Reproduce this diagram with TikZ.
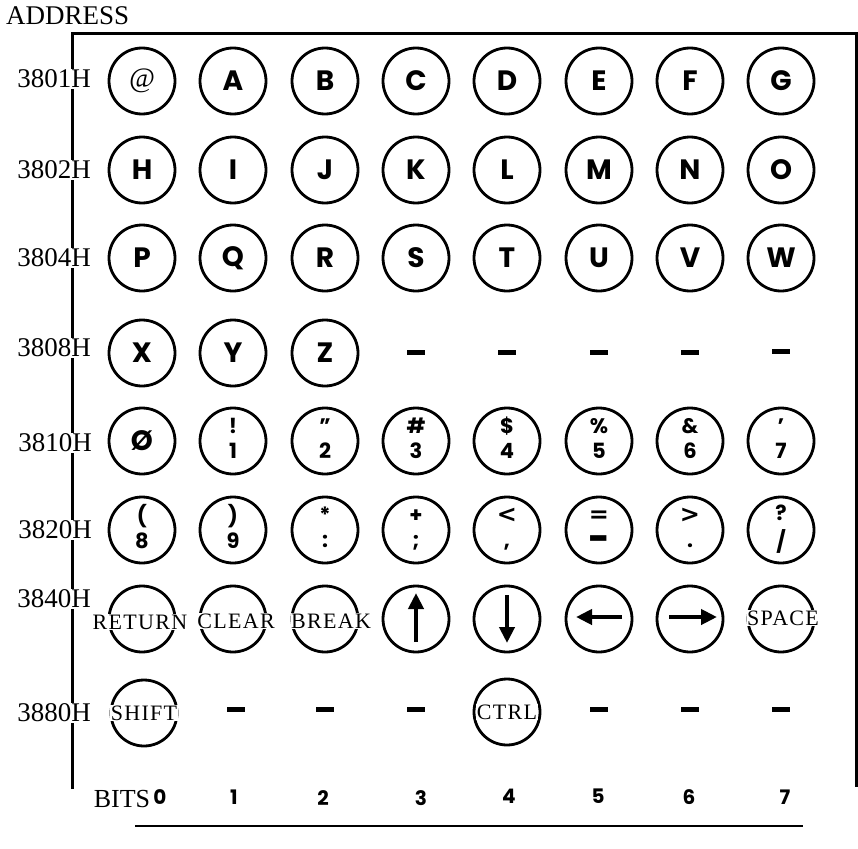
\documentclass[tikz,border=0pt]{standalone}
\usepackage{fontspec}
\usepackage{graphicx}
\setmainfont{Liberation Serif}
\newfontfamily\keyfont{Poppins}
\newfontfamily\symfont{DejaVu Sans}
\newfontfamily\wordfont[LetterSpace=6]{Liberation Serif}
\usetikzlibrary{arrows.meta}
\begin{document}
\begin{tikzpicture}[x=1pt,y=-1pt,
  key/.style={circle, draw, line width=2.8pt, minimum size=66pt, inner sep=0pt,
    font=\keyfont\bfseries\fontsize{28}{28}\selectfont},
  keytwo/.style={key, align=center, font=\keyfont\bfseries\fontsize{21}{25}\selectfont},
  keyat/.style={key, font=\itshape\fontsize{28}{28}\selectfont},
  keyring/.style={circle, draw, line width=2.8pt, minimum size=66pt, inner sep=0pt},
  keyword/.style={fill=white, inner sep=0.5pt, font=\wordfont\fontsize{22}{22}\selectfont},
  addr/.style={fill=white, inner sep=1pt, font=\fontsize{27}{27}\selectfont},
  dashbar/.style={fill=black, minimum width=18pt, minimum height=5pt, inner sep=0pt},
  bitnum/.style={font=\keyfont\bfseries\fontsize{20}{20}\selectfont},
  frameline/.style={line width=3pt},
  bigarrow/.style={line width=4.5pt, -{Triangle[length=16pt,width=15pt]}}
]
\useasboundingbox (0,0) rectangle (858,848);
\newcommand{\twol}[2]{\strut#1\\\strut#2}
\newcommand{\bigsym}[1]{{\symfont\bfseries\fontsize{24}{25}\selectfont #1}}

% frame
\coordinate (tl) at (72,34);
\coordinate (tr) at (856,34);
\coordinate (bl) at (72,789);
\coordinate (br) at (856,787);
\draw[frameline] (bl) -- (tl) -- (tr) -- (br);

\node[font=\fontsize{27}{27}\selectfont, anchor=west, inner sep=0pt] (address) at (6,16) {ADDRESS};

% row labels
\node[addr] (l1) at (54,79) {3801H};
\node[addr] (l2) at (54,170) {3802H};
\node[addr] (l3) at (54,258) {3804H};
\node[addr] (l4) at (54,348) {3808H};
\node[addr] (l5) at (55,443) {3810H};
\node[addr] (l6) at (55,530) {3820H};
\node[addr] (l7) at (54,599) {3840H};
\node[addr] (l8) at (54,713) {3880H};

% row 1
\node[keyat] (kat) at (142,81) {@};
\node[key] (kA) at (233,81) {A};
\node[key] (kB) at (325,81) {B};
\node[key] (kC) at (416,81) {C};
\node[key] (kD) at (507,81) {D};
\node[key] (kE) at (599,81) {E};
\node[key] (kF) at (690,81) {F};
\node[key] (kG) at (781,81) {G};
% row 2
\node[key] (kH) at (142,170) {H};
\node[key] (kI) at (233,170) {I};
\node[key] (kJ) at (325,170) {J};
\node[key] (kK) at (416,170) {K};
\node[key] (kL) at (507,170) {L};
\node[key] (kM) at (599,170) {M};
\node[key] (kN) at (690,170) {N};
\node[key] (kO) at (781,170) {O};
% row 3
\node[key] (kP) at (142,258) {P};
\node[key] (kQ) at (233,258) {Q};
\node[key] (kR) at (325,258) {R};
\node[key] (kS) at (416,258) {S};
\node[key] (kT) at (507,258) {T};
\node[key] (kU) at (599,258) {U};
\node[key] (kV) at (690,258) {V};
\node[key] (kW) at (781,258) {W};
% row 4
\node[key] (kX) at (142,353) {X};
\node[key] (kY) at (233,353) {Y};
\node[key] (kZ) at (325,353) {Z};
\node[dashbar] (d43) at (416,352) {};
\node[dashbar] (d44) at (507,352) {};
\node[dashbar] (d45) at (599,352) {};
\node[dashbar] (d46) at (690,352) {};
\node[dashbar] (d47) at (781,351) {};
% row 5
\node[key] (k0) at (142,441) {Ø};
\node[keytwo] (k1) at (233,441) {\twol{!}{1}};
\node[keytwo] (k2) at (325,441) {\twol{”}{2}};
\node[keytwo] (k3) at (416,441) {\twol{\#}{3}};
\node[keytwo] (k4) at (507,441) {\twol{\$}{4}};
\node[keytwo] (k5) at (599,441) {\twol{\%}{5}};
\node[keytwo] (k6) at (690,441) {\twol{\&}{6}};
\node[keytwo] (k7) at (781,441) {\twol{’}{7}};
% row 6
\node[keytwo] (k8) at (142,530) {\twol{(}{8}};
\node[keytwo] (k9) at (233,530) {\twol{)}{9}};
\node[keytwo] (kcolon) at (325,530) {\twol{*}{:}};
\node[keytwo] (ksemi) at (416,530) {\twol{+}{;}};
\node[keytwo] (kcomma) at (507,530) {\twol{\bigsym{<}}{,}};
\node[keytwo] (kminus) at (599,530) {\twol{\bigsym{=}}{\raisebox{-5pt}{\scalebox{1.4}[1.9]{–}}}};
\node[keytwo] (kdot) at (690,530) {\twol{\bigsym{>}}{.}};
\node[keytwo] (kslash) at (781,530) {\twol{?}{/}};
% row 7
\node[keyring] (kret) at (142,619) {};
\node[keyword] (tret) at (140,622) {RETURN};
\node[keyring] (kclr) at (233,619) {};
\node[keyword] (tclr) at (236,621) {CLEAR};
\node[keyring] (kbrk) at (325,619) {};
\node[keyword] (tbrk) at (331,621) {BREAK};
\node[keyring] (kup) at (416,619) {};
\node[keyring] (kdown) at (507,619) {};
\node[keyring] (kleft) at (599,619) {};
\node[keyring] (kright) at (690,619) {};
\node[keyring] (kspace) at (781,619) {};
\node[keyword] (tspace) at (783,618) {SPACE};
\draw[bigarrow] ([yshift=-23pt]kup.center) -- ([yshift=26pt]kup.center);
\draw[bigarrow] ([yshift=24pt]kdown.center) -- ([yshift=-24pt]kdown.center);
\draw[bigarrow] ([xshift=23pt,yshift=2pt]kleft.center) -- ([xshift=-23pt,yshift=2pt]kleft.center);
\draw[bigarrow] ([xshift=-21pt,yshift=2pt]kright.center) -- ([xshift=27pt,yshift=2pt]kright.center);
% row 8
\node[keyring] (kshift) at (144,713) {};
\node[keyword] (tshift) at (144,713) {SHIFT};
\node[dashbar] (d81) at (236,709) {};
\node[dashbar] (d82) at (325,709) {};
\node[dashbar] (d83) at (416,709) {};
\node[keyring] (kctrl) at (507,712) {};
\node[keyword] (tctrl) at (507,712) {CTRL};
\node[dashbar] (d85) at (599,709) {};
\node[dashbar] (d86) at (690,709) {};
\node[dashbar] (d87) at (781,709) {};

% bits row
\node[font=\fontsize{26}{26}\selectfont] (bits) at (122,799) {BITS};
\node[bitnum] (b0) at (160,797) {0};
\node[bitnum] (b1) at (234,797) {1};
\node[bitnum] (b2) at (323,798) {2};
\node[bitnum] (b3) at (421,798) {3};
\node[bitnum] (b4) at (509,796) {4};
\node[bitnum] (b5) at (598,796) {5};
\node[bitnum] (b6) at (689,797) {6};
\node[bitnum] (b7) at (785,797) {7};
\coordinate (bb1) at (135,826);
\coordinate (bb2) at (803,826);
\draw[line width=2.5pt] (bb1) -- (bb2);
\end{tikzpicture}
\end{document}
